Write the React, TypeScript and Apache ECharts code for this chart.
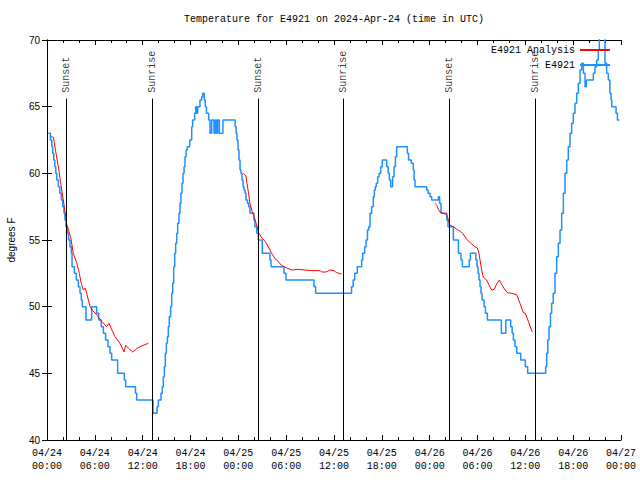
import React, { useEffect, useRef } from "react";
import * as echarts from "echarts";

// Time axis: hours since 04/24 00:00 UTC
const xTickLabels = [
  "04/24\n00:00", "04/24\n06:00", "04/24\n12:00", "04/24\n18:00",
  "04/25\n00:00", "04/25\n06:00", "04/25\n12:00", "04/25\n18:00",
  "04/26\n00:00", "04/26\n06:00", "04/26\n12:00", "04/26\n18:00",
  "04/27\n00:00",
];

const titleText = "Temperature for E4921 on 2024-Apr-24 (time in UTC)";
const seriesNames = ["E4921 Analysis", "E4921"];

// Sunrise / sunset events (hours)
const eventTimes = [2.42, 13.21, 26.5, 37.13, 50.47, 61.27];
const eventNames = ["Sunset", "Sunrise", "Sunset", "Sunrise", "Sunset", "Sunrise"];

// Observed temperatures (hour, °F) – value changes at each time
const obsData: [number, number][] = [
  [0.17, 63], [0.42, 62.5], [0.6, 62], [0.72, 61.5], [0.85, 61], [0.98, 60.5], [1.1, 60], [1.23, 59.5],
  [1.42, 59], [1.6, 58.5], [1.8, 58], [1.97, 57.5], [2.13, 57], [2.25, 56.5], [2.38, 56], [2.55, 55.5],
  [2.7, 55], [2.88, 54.5], [3.05, 54], [3.14, 53], [3.43, 52.5], [3.68, 52], [3.93, 51.5], [4.14, 51],
  [4.3, 50.5], [4.43, 50], [4.89, 49], [5.6, 50], [6.23, 49.5], [6.48, 49], [6.8, 48.5], [7.07, 48],
  [7.35, 47.5], [7.65, 47], [7.9, 46.5], [8.11, 46], [8.86, 45], [9.7, 44.5], [9.87, 44], [11.1, 43.5],
  [11.25, 43], [13.3, 42], [13.8, 42.5], [13.97, 43], [14.3, 43.5], [14.46, 44], [14.59, 44.75],
  [14.72, 45.5], [14.84, 46.5], [14.97, 47.25], [15.1, 47.75], [15.22, 48.5], [15.34, 49.25], [15.5, 50],
  [15.64, 51], [15.77, 51.75], [15.89, 53], [16.02, 54], [16.14, 54.75], [16.27, 55.5], [16.39, 56.25],
  [16.55, 57], [16.68, 57.75], [16.8, 58.5], [16.93, 59.25], [17.06, 60], [17.19, 60.5], [17.31, 61.25],
  [17.44, 61.75], [17.6, 62], [17.9, 62.5], [18.15, 63.5], [18.27, 64], [18.52, 64.5], [18.65, 65],
  [18.77, 64.5], [18.9, 65], [19.19, 65.5], [19.4, 65.75], [19.53, 66], [19.73, 65.5], [19.85, 65],
  [20.0, 64.5], [20.28, 64], [20.45, 63], [20.66, 64], [20.95, 63], [21.12, 64], [21.28, 63], [21.41, 64],
  [21.62, 63], [22.07, 64], [23.46, 64], [23.6, 63.5], [23.72, 63], [23.83, 62.5], [23.96, 61.75],
  [24.08, 61], [24.21, 60.25], [24.33, 60], [24.46, 59.5], [24.59, 59], [24.71, 58.75], [24.84, 58.5],
  [24.96, 58], [25.15, 57.75], [25.3, 57.5], [25.46, 57], [25.96, 56.5], [26.08, 56], [26.3, 55.5],
  [26.5, 55], [27.0, 54], [27.97, 53.5], [28.1, 53], [29.73, 52.5], [29.98, 52], [33.49, 51.5],
  [33.7, 51], [38.2, 51.5], [38.4, 52], [38.6, 52.5], [38.92, 53], [39.47, 53.5], [39.6, 54],
  [39.85, 54.5], [40.02, 55], [40.2, 55.75], [40.35, 56], [40.52, 57], [40.72, 57.5], [40.93, 58.25],
  [41.06, 58.75], [41.18, 59], [41.3, 59.25], [41.48, 59.75], [41.65, 60], [41.86, 60.5], [42.05, 61],
  [42.61, 60.5], [42.8, 60], [42.94, 59.5], [43.1, 59], [43.35, 59.75], [43.53, 60.5], [43.7, 61.25],
  [43.86, 62], [45.2, 61.5], [45.35, 61], [45.7, 60.75], [45.95, 60.25], [46.05, 59.5], [46.16, 59],
  [47.62, 58.75], [47.8, 58.5], [48.04, 58.25], [48.25, 58], [49.08, 58.25], [49.25, 57.75], [49.42, 57],
  [50.14, 56.5], [50.3, 56], [50.97, 55], [51.6, 54], [51.93, 53.5], [52.1, 53], [52.97, 53.5], [53.1, 54],
  [53.8, 53.5], [53.94, 53], [54.06, 52.5], [54.19, 52], [54.32, 51.5], [54.44, 51], [54.57, 50.5],
  [54.82, 50], [55.0, 49.5], [55.24, 49], [56.99, 48], [57.55, 49], [58.16, 48.5], [58.35, 48],
  [58.5, 47.5], [58.7, 47], [58.92, 46.5], [59.42, 46], [60.0, 45.5], [60.29, 45], [62.55, 45.5],
  [62.68, 46.5], [62.82, 47.5], [62.97, 48.5], [63.15, 49.5], [63.3, 50.25], [63.5, 51], [63.72, 52.5],
  [63.93, 53.75], [64.14, 54.75], [64.35, 55.75], [64.56, 57], [64.77, 58.5], [64.98, 60], [65.19, 61],
  [65.39, 62], [65.6, 63], [65.81, 63.75], [66.02, 64.5], [66.23, 65.25], [66.44, 66], [66.65, 66.75],
  [66.86, 67.75], [67.07, 68.25], [67.28, 67.5], [67.49, 66.5], [67.65, 67], [68.53, 67.5], [68.74, 68],
  [68.95, 68.5], [69.16, 69.25], [69.28, 70.5], [69.99, 68.25], [70.2, 67.5], [70.41, 67], [70.6, 66],
  [70.75, 65.5], [70.84, 65], [71.38, 64.5], [71.55, 64], [71.8, 64],
];

// Analysis temperatures (hour, °F), three nightly segments
const analysisSeg1: [number, number][] = [
  [0.5, 62.75], [0.8, 62.7], [1.13, 61.5], [1.5, 60.2], [1.7, 59.3], [1.92, 58.5], [2.17, 57.5],
  [2.47, 56.2], [2.67, 55.8], [2.97, 55.2], [3.3, 54.0], [3.72, 53.3], [4.05, 52.5], [4.3, 51.75],
  [4.55, 51.25], [4.8, 51.4], [5.06, 50.8], [5.4, 50.0], [5.73, 49.7], [6.23, 49.4], [6.86, 48.9],
  [7.48, 48.5], [7.78, 48.75], [8.1, 48.3], [8.53, 47.75], [9.16, 47.25], [9.66, 46.6], [9.87, 47.1],
  [10.2, 46.9], [10.75, 46.6], [11.25, 46.85], [11.67, 47.0], [12.7, 47.25],
];
const analysisSeg2: [number, number][] = [
  [24.6, 60.0], [24.96, 59.8], [25.09, 59.25], [25.28, 58.5], [25.46, 57.75], [25.7, 57.2],
  [25.88, 56.9], [26.1, 56.5], [26.38, 56.0], [26.5, 55.6], [26.84, 55.25], [27.35, 54.9],
  [27.75, 54.5], [28.18, 54.0], [28.6, 53.6], [29.0, 53.4], [29.4, 53.1], [30.07, 52.9], [30.7, 52.75],
  [31.5, 52.8], [32.36, 52.75], [33.2, 52.7], [34.3, 52.7], [34.46, 52.6], [35.0, 52.6], [35.5, 52.75],
  [36.0, 52.7], [36.34, 52.55], [36.96, 52.45],
];
const analysisSeg3: [number, number][] = [
  [48.67, 57.75], [48.9, 57.6], [49.1, 57.3], [49.3, 57.1], [49.51, 57.05], [50.14, 56.9], [50.35, 56.5],
  [50.55, 56.1], [50.97, 56.0], [51.39, 55.8], [51.75, 55.7], [52.14, 55.5], [52.65, 55.05],
  [53.15, 54.75], [53.69, 54.5], [53.98, 54.4], [54.15, 54.1], [54.32, 53.5], [54.52, 52.75],
  [54.73, 52.2], [55.15, 52.0], [55.5, 51.55], [55.78, 51.25], [56.1, 51.3], [56.4, 51.7], [56.74, 52.0],
  [57.0, 51.7], [57.3, 51.4], [57.74, 51.05], [58.3, 51.0], [58.92, 50.9], [59.33, 50.25],
  [59.75, 49.55], [60.0, 49.5], [60.38, 48.9], [60.67, 48.4], [60.88, 48.1],
];

const Y_MIN = 40;
const Y_MAX = 70;
const EVENT_LINE_TOP = 65.6;

const MONO = "'Liberation Mono', 'DejaVu Sans Mono', monospace";
const SANS = "'Liberation Sans', 'DejaVu Sans', sans-serif";

export default function App() {
  const ref = useRef<HTMLDivElement>(null);

  useEffect(() => {
    if (!ref.current) return;
    const chart = echarts.init(ref.current, undefined, { renderer: "svg" });

    const gap: any[] = [["-", "-"]];
    const analysisData: any[] = [...analysisSeg1, ...gap, ...analysisSeg2, ...gap, ...analysisSeg3];

    const axisLine = { show: true, lineStyle: { color: "#000", width: 1 } };
    const xCommon = {
      type: "value" as const,
      min: 0,
      max: 72,
      interval: 6,
      axisLine,
      axisTick: { show: true, inside: true, length: 5, lineStyle: { color: "#000" } },
      minorTick: { show: true, splitNumber: 3, length: 3, lineStyle: { color: "#000" } },
      splitLine: { show: false },
    };
    const yCommon = {
      type: "value" as const,
      min: Y_MIN,
      max: Y_MAX,
      interval: 5,
      axisLine,
      axisTick: { show: true, inside: true, length: 5, lineStyle: { color: "#000" } },
      splitLine: { show: false },
    };

    chart.setOption({
      animation: false,
      backgroundColor: "#fff",
      title: {
        text: titleText,
        left: 334,
        top: 14,
        textAlign: "center",
        padding: 0,
        textStyle: { fontFamily: MONO, fontSize: 10, fontWeight: "normal", color: "#000" },
      },
      legend: {
        data: seriesNames,
        orient: "vertical",
        align: "right",
        right: 30,
        top: 44,
        padding: 0,
        itemGap: 3,
        itemWidth: 30,
        itemHeight: 2,
        icon: "rect",
        textStyle: { fontFamily: MONO, fontSize: 10, color: "#000", lineHeight: 12 },
      },
      grid: {
        left: 47,
        right: 19,
        top: 40,
        bottom: 40,
        containLabel: false,
        outerBoundsMode: "none",
      },
      xAxis: [
        {
          ...xCommon,
          position: "bottom",
          axisLabel: {
            show: true,
            margin: 7,
            fontFamily: MONO,
            fontSize: 10,
            lineHeight: 13,
            color: "#000",
            formatter: (v: number) => xTickLabels[Math.round(v / 6)] ?? "",
          },
        },
        { ...xCommon, position: "top", axisLabel: { show: false } },
      ],
      yAxis: [
        {
          ...yCommon,
          position: "left",
          name: "degrees F",
          nameLocation: "middle",
          nameRotate: 90,
          nameGap: 31,
          nameTextStyle: { fontFamily: SANS, fontSize: 10, color: "#000" },
          axisLabel: { show: true, margin: 7, fontFamily: SANS, fontSize: 10, color: "#000" },
        },
        { ...yCommon, position: "right", axisLabel: { show: false } },
      ],
      series: [
        {
          name: "E4921",
          type: "line",
          step: "end",
          data: obsData,
          symbol: "none",
          lineStyle: { color: "#1e90ff", width: 1.5 },
          itemStyle: { color: "#1e90ff" },
          z: 2,
          markLine: {
            silent: true,
            symbol: "none",
            label: { show: false },
            lineStyle: { color: "#000", width: 1, type: "solid" },
            data: eventTimes.map((t) => [{ coord: [t, Y_MIN] }, { coord: [t, EVENT_LINE_TOP] }]),
          },
        },
        {
          name: "E4921 Analysis",
          type: "line",
          data: analysisData,
          symbol: "none",
          connectNulls: false,
          lineStyle: { color: "#ff0000", width: 1 },
          itemStyle: { color: "#ff0000" },
          z: 3,
        },
        {
          name: "events",
          type: "scatter",
          data: eventTimes.map((t) => [t, EVENT_LINE_TOP]),
          symbolSize: 0,
          silent: true,
          label: {
            show: true,
            position: "top",
            distance: 6,
            rotate: 90,
            align: "left",
            verticalAlign: "middle",
            fontFamily: MONO,
            fontSize: 10,
            color: "#000",
            formatter: (p: any) => eventNames[p.dataIndex],
          },
        },
      ],
    });

    return () => chart.dispose();
  }, []);

  return (
    <div
      ref={ref}
      style={{ position: "fixed", left: 0, top: 0, width: 640, height: 480, background: "#fff" }}
    />
  );
}
